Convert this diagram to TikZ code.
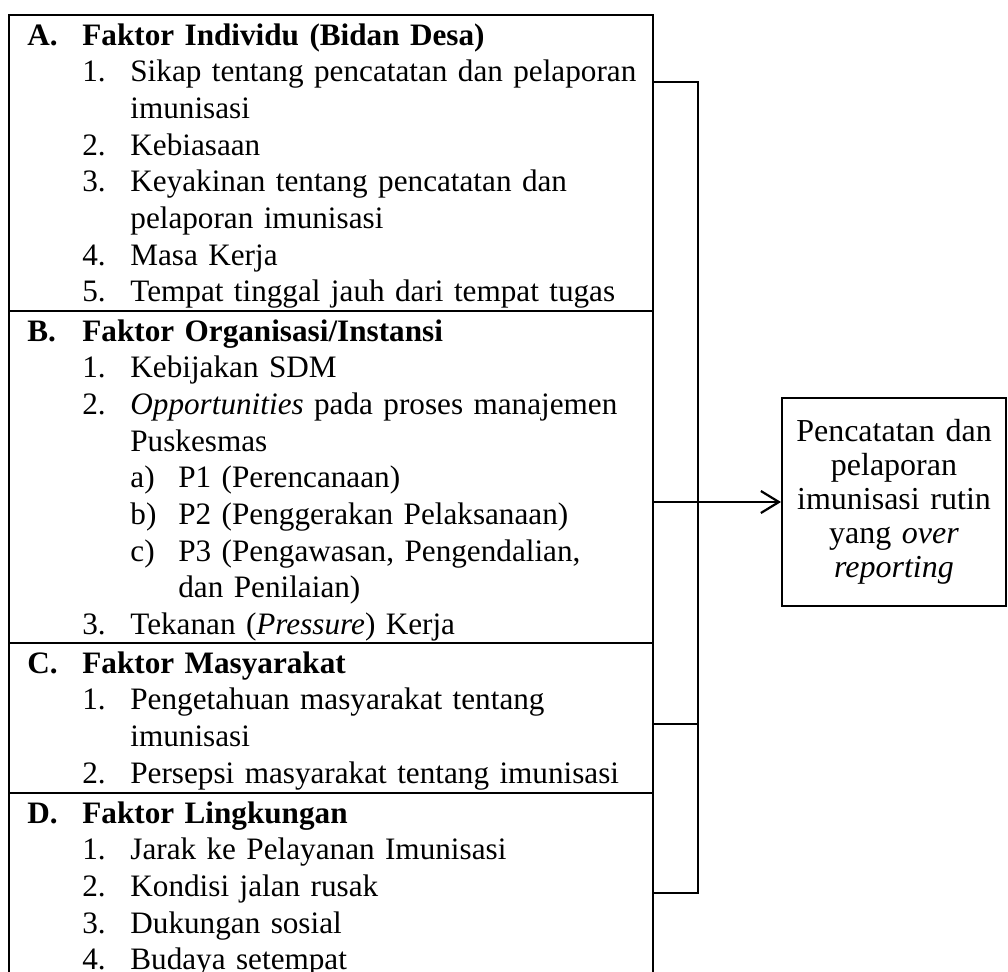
\documentclass[tikz,border=0pt]{standalone}
\usepackage{fontspec}
\setmainfont{Liberation Serif}
\usetikzlibrary{positioning,arrows.meta}
\newcommand\secHead[2]{\makebox[27.5pt][l]{\bfseries #1}\textbf{#2}}
\newcommand\secItem[2]{\hspace*{27.5pt}\makebox[24pt][l]{#1}#2}
\newcommand\secCont[1]{\hspace*{51.5pt}#1}
\newcommand\subItem[2]{\hspace*{51.5pt}\makebox[24pt][l]{#1}#2}
\newcommand\subCont[1]{\hspace*{75.5pt}#1}
\begin{document}
\begin{tikzpicture}[x=0.5pt,y=-0.5pt,
  secbox/.style={draw,line width=1.1pt,minimum width=322pt,inner sep=0pt,outer sep=0pt,anchor=north west},
  sectxt/.style={anchor=base west,text width=311pt,align=left,inner sep=0pt,font=\fontsize{15.6}{18.35}\selectfont},
  resbox/.style={draw,line width=1pt,minimum width=112pt,minimum height=104pt,text width=108pt,align=center,inner sep=0pt,font=\fontsize{16}{17}\selectfont},
  link/.style={line width=1.1pt}]
\useasboundingbox (0,0) rectangle (1008,971);
\clip (0,0) rectangle (1008,971);
\node[secbox,minimum height=148pt] (secA) at (9,15) {};
\node[secbox,minimum height=166pt] (secB) at (secA.south west) {};
\node[secbox,minimum height=75pt] (secC) at (secB.south west) {};
\node[secbox,minimum height=110pt] (secD) at (secC.south west) {};
\node[sectxt] (txtA) at ([shift={(18,30)}]secA.north west) {\secHead{A.}{Faktor Individu (Bidan Desa)}\\
\secItem{1.}{Sikap tentang pencatatan dan pelaporan}\\
\secCont{imunisasi}\\
\secItem{2.}{Kebiasaan}\\
\secItem{3.}{Keyakinan tentang pencatatan dan}\\
\secCont{pelaporan imunisasi}\\
\secItem{4.}{Masa Kerja}\\
\secItem{5.}{Tempat tinggal jauh dari tempat tugas}};
\node[sectxt] (txtB) at ([shift={(18,30)}]secB.north west) {\secHead{B.}{Faktor Organisasi/Instansi}\\
\secItem{1.}{Kebijakan SDM}\\
\secItem{2.}{\textit{Opportunities} pada proses manajemen}\\
\secCont{Puskesmas}\\
\subItem{a)}{P1 (Perencanaan)}\\
\subItem{b)}{P2 (Penggerakan Pelaksanaan)}\\
\subItem{c)}{P3 (Pengawasan, Pengendalian,}\\
\subCont{dan Penilaian)}\\
\secItem{3.}{Tekanan (\textit{Pressure}) Kerja}};
\node[sectxt] (txtC) at ([shift={(18,30)}]secC.north west) {\secHead{C.}{Faktor Masyarakat}\\
\secItem{1.}{Pengetahuan masyarakat tentang}\\
\secCont{imunisasi}\\
\secItem{2.}{Persepsi masyarakat tentang imunisasi}};
\node[sectxt] (txtD) at ([shift={(18,30)}]secD.north west) {\secHead{D.}{Faktor Lingkungan}\\
\secItem{1.}{Jarak ke Pelayanan Imunisasi}\\
\secItem{2.}{Kondisi jalan rusak}\\
\secItem{3.}{Dukungan sosial}\\
\secItem{4.}{Budaya setempat}};
\node[resbox] (res) at (894,502) {Pencatatan dan\\pelaporan\\imunisasi rutin\\yang \textit{over}\\\textit{reporting}};
\coordinate (jA) at (653,82);
\coordinate (jB) at (653,502);
\coordinate (jC) at (653,724);
\coordinate (jD) at (653,893);
\coordinate (brk) at (698,0);
\draw[link] (jA) -| (brk |- jD) -- (jD);
\draw[link] (jC) -- (jC -| brk);
\draw[link,-{Straight Barb[length=9pt,width=11pt]}] (jB) -- (res);
\end{tikzpicture}
\end{document}
